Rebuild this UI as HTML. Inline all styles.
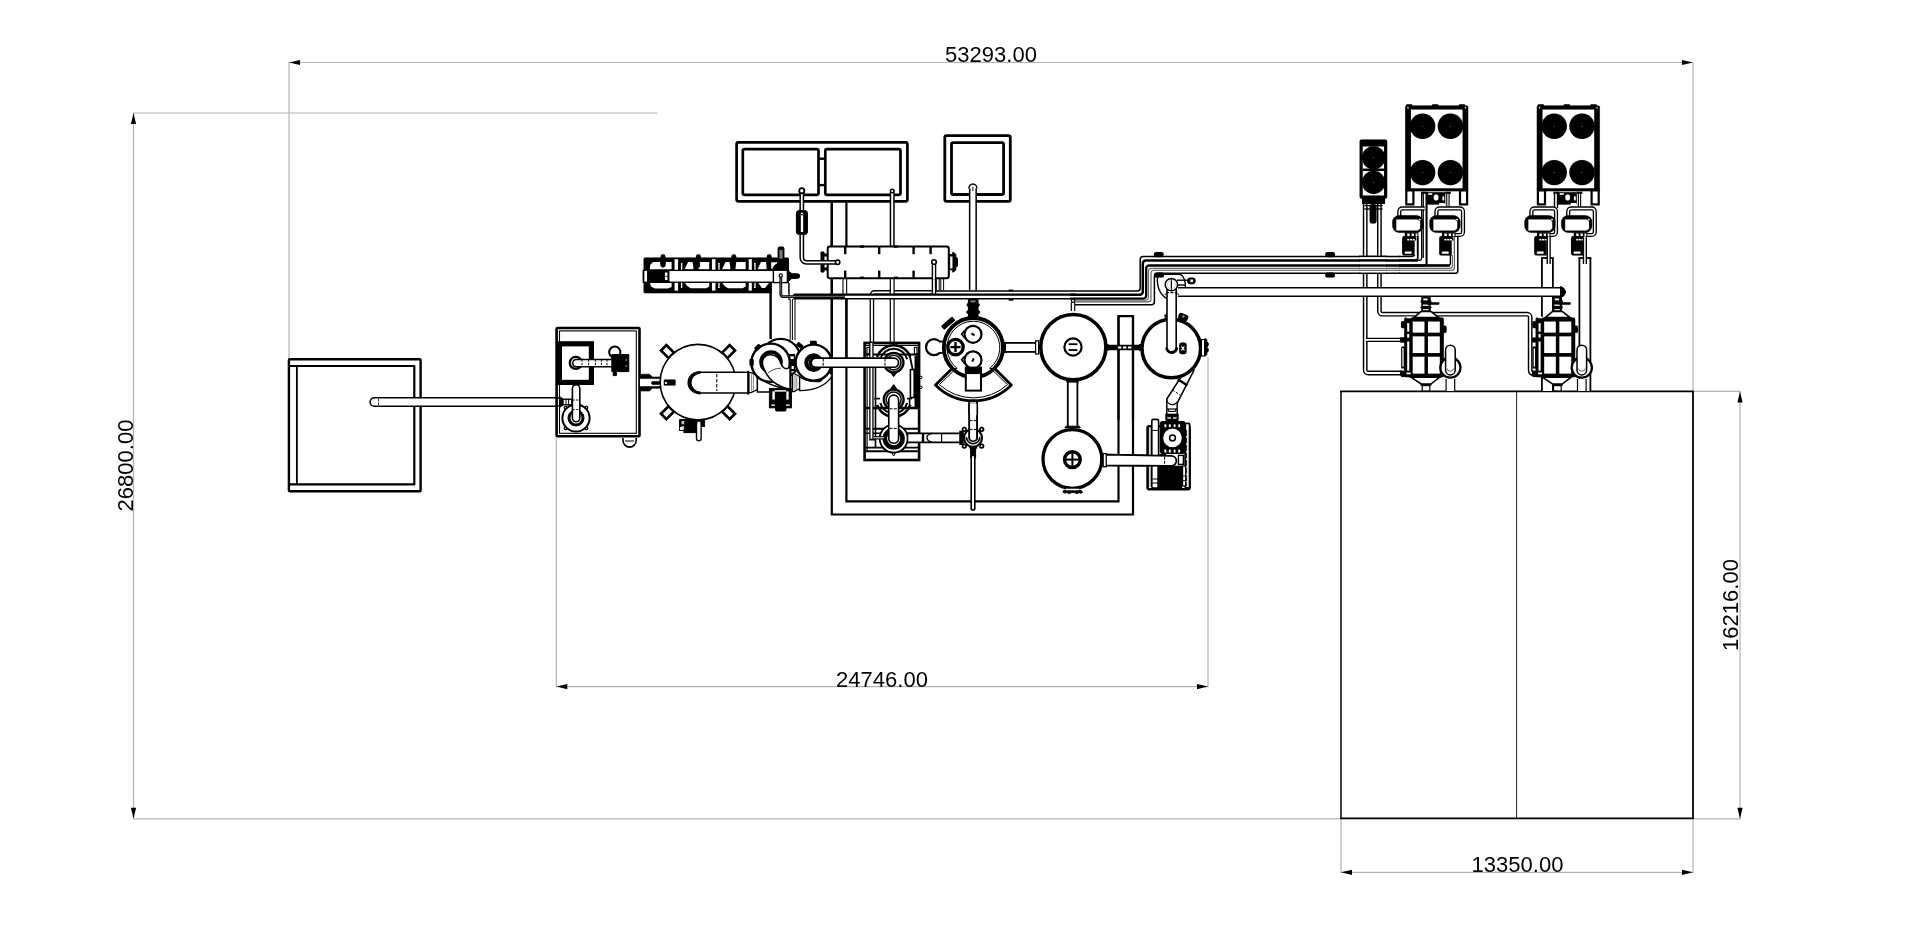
<!DOCTYPE html>
<html lang="en"><head><meta charset="utf-8"><title>Plant layout</title>
<style>
html,body{margin:0;padding:0;background:#fff;}
body{width:1920px;height:929px;overflow:hidden;}
svg{display:block;font-family:"Liberation Sans",sans-serif;will-change:transform;}
</style></head><body>
<svg width="1920" height="929" viewBox="0 0 1920 929">
<rect width="1920" height="929" fill="#fff"/>
<line x1="289" y1="62.5" x2="1693" y2="62.5" stroke="#b4b4b4" stroke-width="1.2" />
<line x1="289" y1="61.9" x2="289" y2="359" stroke="#b4b4b4" stroke-width="1.2" />
<line x1="1693" y1="61.9" x2="1693" y2="391" stroke="#b4b4b4" stroke-width="1.2" />
<polygon points="289,62.5 300,59.9 300,65.1" fill="#000"/>
<polygon points="1693,62.5 1682,59.9 1682,65.1" fill="#000"/>
<text x="991" y="61.5" font-size="22" text-anchor="middle" opacity="0.99">53293.00</text>
<line x1="133.5" y1="113" x2="133.5" y2="818.8" stroke="#b4b4b4" stroke-width="1.2" />
<line x1="132.9" y1="113" x2="657.5" y2="113" stroke="#b4b4b4" stroke-width="1.2" />
<line x1="132.9" y1="818.8" x2="1341" y2="818.8" stroke="#b4b4b4" stroke-width="1.2" />
<polygon points="133.5,113 130.9,124 136.1,124" fill="#000"/>
<polygon points="133.5,818.8 130.9,807.8 136.1,807.8" fill="#000"/>
<text x="133" y="465.5" font-size="22" text-anchor="middle" opacity="0.99" transform="rotate(-90 133 465.5)">26800.00</text>
<line x1="556.3" y1="438" x2="556.3" y2="687.2" stroke="#b4b4b4" stroke-width="1.2" />
<line x1="1208" y1="357" x2="1208" y2="687.2" stroke="#b4b4b4" stroke-width="1.2" />
<line x1="556.3" y1="686.6" x2="1208" y2="686.6" stroke="#b4b4b4" stroke-width="1.2" />
<polygon points="556.3,686.6 567.3,684.0 567.3,689.2" fill="#000"/>
<polygon points="1208,686.6 1197,684.0 1197,689.2" fill="#000"/>
<text x="882" y="686.6" font-size="22" text-anchor="middle" opacity="0.99">24746.00</text>
<line x1="1693" y1="391.4" x2="1740.6" y2="391.4" stroke="#b4b4b4" stroke-width="1.2" />
<line x1="1693" y1="818.8" x2="1740.6" y2="818.8" stroke="#b4b4b4" stroke-width="1.2" />
<line x1="1740" y1="391.4" x2="1740" y2="818.8" stroke="#b4b4b4" stroke-width="1.2" />
<polygon points="1740,391.4 1737.4,402.4 1742.6,402.4" fill="#000"/>
<polygon points="1740,818.8 1737.4,807.8 1742.6,807.8" fill="#000"/>
<text x="1738.2" y="605" font-size="22" text-anchor="middle" opacity="0.99" transform="rotate(-90 1738.2 605)">16216.00</text>
<line x1="1341" y1="818" x2="1341" y2="872.9" stroke="#b4b4b4" stroke-width="1.2" />
<line x1="1693" y1="818" x2="1693" y2="872.9" stroke="#b4b4b4" stroke-width="1.2" />
<line x1="1341" y1="872.3" x2="1693" y2="872.3" stroke="#b4b4b4" stroke-width="1.2" />
<polygon points="1341,872.3 1352,869.6999999999999 1352,874.9" fill="#000"/>
<polygon points="1693,872.3 1682,869.6999999999999 1682,874.9" fill="#000"/>
<text x="1517.5" y="871.5" font-size="22" text-anchor="middle" opacity="0.99">13350.00</text>
<line x1="1340.2" y1="391.4" x2="1693.8" y2="391.4" stroke="#000" stroke-width="1.8" />
<line x1="1340.2" y1="818.4" x2="1693.8" y2="818.4" stroke="#000" stroke-width="1.8" />
<line x1="1341" y1="391" x2="1341" y2="818.5" stroke="#000" stroke-width="1.5" />
<line x1="1693" y1="391" x2="1693" y2="818.5" stroke="#000" stroke-width="1.8" />
<line x1="1516.6" y1="391" x2="1516.6" y2="818.5" stroke="#222" stroke-width="1.0" />
<rect x="288.9" y="359.3" width="131.7" height="131.9" fill="none" stroke="#000" stroke-width="2.4" rx="0.8" />
<path d="M289,366 H414.3 V484.4 H289" fill="none" stroke="#000" stroke-width="2.2" stroke-linejoin="round"/>
<line x1="296.9" y1="366" x2="296.9" y2="484.4" stroke="#000" stroke-width="1.8" />
<path d="M374.4,402 H557" fill="none" stroke="#000" stroke-width="10.2" stroke-linecap="round" stroke-linejoin="round"/>
<path d="M374.4,402 H557" fill="none" stroke="#fff" stroke-width="7.0" stroke-linecap="round" stroke-linejoin="round"/>
<line x1="378.6" y1="399" x2="378.6" y2="405" stroke="#000" stroke-width="0.9" stroke-dasharray="2.4 1.2"/>
<rect x="556.6" y="328" width="82.9" height="108.2" fill="none" stroke="#000" stroke-width="2.6" rx="1" />
<rect x="559.5" y="330.9" width="76.8" height="102.4" fill="none" stroke="#000" stroke-width="1.1" rx="0" />
<rect x="559.4" y="343.8" width="32.0" height="38.6" fill="none" stroke="#000" stroke-width="5.2" rx="0" />
<circle cx="575.8" cy="362.9" r="6.0" fill="none" stroke="#000" stroke-width="2.4" />
<path d="M576.4,363.1 H611" fill="none" stroke="#000" stroke-width="8.8" stroke-linecap="round" stroke-linejoin="round"/>
<path d="M576.4,363.1 H611" fill="none" stroke="#fff" stroke-width="5.8" stroke-linecap="round" stroke-linejoin="round"/>
<line x1="582" y1="359.6" x2="582" y2="366.6" stroke="#000" stroke-width="0.9" stroke-dasharray="2.2 1.2"/>
<line x1="588.6" y1="359.6" x2="588.6" y2="366.6" stroke="#000" stroke-width="0.9" stroke-dasharray="2.2 1.2"/>
<line x1="595.4" y1="359.6" x2="595.4" y2="366.6" stroke="#000" stroke-width="0.9" stroke-dasharray="2.2 1.2"/>
<line x1="601.4" y1="359.6" x2="601.4" y2="366.6" stroke="#000" stroke-width="0.9" stroke-dasharray="2.2 1.2"/>
<line x1="607" y1="359.6" x2="607" y2="366.6" stroke="#000" stroke-width="0.9" stroke-dasharray="2.2 1.2"/>
<circle cx="614.8" cy="352.2" r="5.6" fill="#fff" stroke="#000" stroke-width="2.0" />
<path d="M611.8,354.6 h17 v17 h-12.4 v4 h-3.2 v-4 h-1.4z" fill="#000" stroke="#000" stroke-width="1" />
<rect x="625.6" y="359" width="1.4" height="2" fill="#666" stroke="#666" stroke-width="0.1" rx="0" />
<rect x="625.6" y="365" width="1.4" height="2" fill="#666" stroke="#666" stroke-width="0.1" rx="0" />
<circle cx="565.7" cy="407.7" r="2.0" fill="#000" stroke="#000" stroke-width="0.1" />
<circle cx="565.7" cy="407.7" r="0.8" fill="#fff" stroke="#fff" stroke-width="0.1" />
<circle cx="586.3" cy="407.7" r="2.0" fill="#000" stroke="#000" stroke-width="0.1" />
<circle cx="586.3" cy="407.7" r="0.8" fill="#fff" stroke="#fff" stroke-width="0.1" />
<circle cx="565.7" cy="428.3" r="2.0" fill="#000" stroke="#000" stroke-width="0.1" />
<circle cx="565.7" cy="428.3" r="0.8" fill="#fff" stroke="#fff" stroke-width="0.1" />
<circle cx="586.3" cy="428.3" r="2.0" fill="#000" stroke="#000" stroke-width="0.1" />
<circle cx="586.3" cy="428.3" r="0.8" fill="#fff" stroke="#fff" stroke-width="0.1" />
<circle cx="576" cy="418" r="13.6" fill="#fff" stroke="#000" stroke-width="2.0" />
<circle cx="576" cy="418" r="7.0" fill="none" stroke="#000" stroke-width="3.0" />
<path d="M576.1,388.4 V418" fill="none" stroke="#000" stroke-width="9.0" stroke-linecap="round" stroke-linejoin="round"/>
<path d="M576.1,388.4 V418" fill="none" stroke="#fff" stroke-width="5.8" stroke-linecap="round" stroke-linejoin="round"/>
<line x1="572.4" y1="400" x2="579.8" y2="400" stroke="#000" stroke-width="0.9" stroke-dasharray="2.4 1.2"/>
<line x1="572.4" y1="409.6" x2="579.8" y2="409.6" stroke="#000" stroke-width="0.9" stroke-dasharray="2.4 1.2"/>
<path d="M559.6,396.6 l3.6,2.4 v6 l-3.6,2.4z" fill="#000" stroke="#000" stroke-width="1" />
<rect x="563" y="399.2" width="8.8" height="5.6" fill="#fff" stroke="#000" stroke-width="1.4" rx="0" />
<line x1="566" y1="399.2" x2="566" y2="404.8" stroke="#000" stroke-width="1.0" />
<line x1="568.6" y1="399.2" x2="568.6" y2="404.8" stroke="#000" stroke-width="1.0" />
<path d="M623,438 v2.5 a6.6,6.6 0 0 0 13.2,0 v-2.5" fill="none" stroke="#000" stroke-width="1.6" />
<line x1="625" y1="441" x2="634" y2="441" stroke="#000" stroke-width="1.0" />
<rect x="640" y="378" width="21" height="9.2" fill="#fff" stroke="#fff" stroke-width="0.1" rx="0" />
<path d="M640.2,374.2 H649.6 L652.4,377 H661 V378.6 H640.2z" fill="#000" stroke="#000" stroke-width="0.6" />
<path d="M640.2,391 H649.6 L652.4,388.2 H661 V386.6 H640.2z" fill="#000" stroke="#000" stroke-width="0.6" />
<path d="M661,381.4 H652.4 L651.2,383 L652.4,384.6 H661z" fill="#000" stroke="#000" stroke-width="0.6" />
<rect x="-5.4" y="-3.8" width="10.8" height="7.6" fill="#fff" stroke="#000" stroke-width="2.7" transform="translate(728.5 351.7) rotate(-45)"/>
<rect x="-5.4" y="-3.8" width="10.8" height="7.6" fill="#fff" stroke="#000" stroke-width="2.7" transform="translate(667.5 351.7) rotate(-135)"/>
<rect x="-5.4" y="-3.8" width="10.8" height="7.6" fill="#fff" stroke="#000" stroke-width="2.7" transform="translate(667.5 412.7) rotate(-225)"/>
<rect x="-5.4" y="-3.8" width="10.8" height="7.6" fill="#fff" stroke="#000" stroke-width="2.7" transform="translate(728.5 412.7) rotate(-315)"/>
<circle cx="698" cy="382.2" r="37.8" fill="#fff" stroke="#000" stroke-width="1.6" />
<rect x="663.8" y="379.6" width="11.8" height="6.0" fill="#000" stroke="#000" stroke-width="0.1" rx="1.2" />
<rect x="665" y="382" width="2" height="1.8" fill="#fff" stroke="#fff" stroke-width="0.1" rx="0" />
<rect x="680" y="419.6" width="24.6" height="6.8" fill="#000" stroke="#000" stroke-width="1" rx="0" />
<rect x="684" y="426" width="14" height="6.6" fill="#000" stroke="#000" stroke-width="1" rx="0" />
<rect x="681.6" y="421" width="2.6" height="3.2" fill="#ccc" stroke="#ccc" stroke-width="0.1" rx="0" />
<rect x="681.6" y="426.2" width="2.6" height="2.8" fill="#ccc" stroke="#ccc" stroke-width="0.1" rx="0" />
<rect x="679.6" y="420" width="5.4" height="10.5" fill="none" stroke="#000" stroke-width="1.0" rx="0" />
<path d="M698.8,423 V438.6" fill="none" stroke="#000" stroke-width="6" stroke-linecap="round" stroke-linejoin="round"/>
<path d="M698.8,423 V438.6" fill="none" stroke="#fff" stroke-width="3.2" stroke-linecap="round" stroke-linejoin="round"/>
<path d="M698.6,372.3 H748.3 V393 H698.6 A10.35,10.35 0 0 1 698.6,372.3Z" fill="#fff" stroke="#000" stroke-width="1.6" />
<path d="M700.5,372.3 A10.35,10.35 0 0 0 700.5,393" fill="none" stroke="#000" stroke-width="2.8" />
<line x1="716.8" y1="374" x2="716.8" y2="391" stroke="#000" stroke-width="1.0" stroke-dasharray="3.5 1.5"/>
<line x1="748.3" y1="370.8" x2="748.3" y2="394.6" stroke="#000" stroke-width="2.0" />
<!--PART2-->
<path d="M831.8,202 V514.5 H1133 V316.2 H1118.5 V501.3 H846.4 V298" fill="none" stroke="#000" stroke-width="2.2" stroke-linejoin="miter"/>
<rect x="736.6" y="142.3" width="170.8" height="59.0" fill="#fff" stroke="#000" stroke-width="2.7" rx="1.8" />
<rect x="742.8" y="149.1" width="75.7" height="45.8" fill="#fff" stroke="#000" stroke-width="2.7" rx="1.8" />
<rect x="825.3" y="149.1" width="75.2" height="45.8" fill="#fff" stroke="#000" stroke-width="2.7" rx="1.8" />
<line x1="819" y1="158.7" x2="825" y2="158.7" stroke="#000" stroke-width="2.4" />
<line x1="819" y1="185.1" x2="825" y2="185.1" stroke="#000" stroke-width="2.4" />
<rect x="944.8" y="135.6" width="65.5" height="65.7" fill="#fff" stroke="#000" stroke-width="2.8" rx="1.8" />
<rect x="951.5" y="142.7" width="52.1" height="51.8" fill="#fff" stroke="#000" stroke-width="2.8" rx="1.8" />
<line x1="831.8" y1="202" x2="831.8" y2="246" stroke="#000" stroke-width="2.2" />
<line x1="846.4" y1="202" x2="846.4" y2="246" stroke="#000" stroke-width="2.2" />
<rect x="643.6" y="257.6" width="145.4" height="35.6" fill="#000" stroke="#000" stroke-width="0.1" rx="1.5" />
<rect x="771.8" y="283" width="16.6" height="11" fill="#fff" stroke="#fff" stroke-width="0.1" rx="0" />
<polygon points="650.0,269.2 650.0,265.0 653.0,261.9 660.0,261.9 660.6,266.5 665.4,266.5 666.0,261.9 671.6,261.9 671.6,269.2" fill="#fff"/>
<polygon points="650.0,283.0 671.6,283.0 671.6,287.0 668.0,288.4 655.0,288.4 651.0,286.6" fill="#fff"/>
<polygon points="757.6,269.2 761.0,261.9 766.0,261.9 766.6,267.0 766.6,269.2" fill="#fff"/>
<polygon points="758.4,283.0 769.0,283.0 765.0,288.0 762.0,288.0" fill="#fff"/>
<rect x="754.4" y="263" width="1.2" height="25" fill="#fff" stroke="#fff" stroke-width="0.1" rx="0" />
<polygon points="684.6,269.2 688.2,261.9 692.6,261.9 693.4,267.0 693.4,269.2" fill="#fff"/>
<polygon points="698.6,269.2 698.6,267.0 699.4,261.9 709.2,261.9 709.2,269.2" fill="#fff"/>
<polygon points="685.0,283.0 709.2,283.0 709.2,286.4 706.2,288.2 690.6,288.2 687.2,286.0" fill="#fff"/>
<rect x="681.0" y="263" width="1.2" height="25" fill="#fff" stroke="#fff" stroke-width="0.1" rx="0" />
<polygon points="722.0,269.2 725.6,261.9 729.5,261.9 730.3,267.0 730.3,269.2" fill="#fff"/>
<polygon points="735.5,269.2 735.5,267.0 736.3,261.9 745.6,261.9 745.6,269.2" fill="#fff"/>
<polygon points="722.4,283.0 745.6,283.0 745.6,286.4 742.6,288.2 728.0,288.2 724.6,286.0" fill="#fff"/>
<rect x="718.4" y="263" width="1.2" height="25" fill="#fff" stroke="#fff" stroke-width="0.1" rx="0" />
<polygon points="771.2,262.2 777.2,262.2 777.2,263.4 773.0,268.8 771.2,268.8" fill="#fff"/>
<rect x="674.6" y="259.2" width="3.4" height="31.4" fill="#fff" stroke="#fff" stroke-width="0.1" rx="0" />
<rect x="712" y="259.2" width="3.4" height="31.4" fill="#fff" stroke="#fff" stroke-width="0.1" rx="0" />
<rect x="748.8" y="259.2" width="3.0" height="31.4" fill="#fff" stroke="#fff" stroke-width="0.1" rx="0" />
<rect x="660.6" y="254.2" width="4.8" height="7.8" fill="#000" stroke="#000" stroke-width="0.1" rx="2.2" />
<rect x="661.5" y="258" width="3.0" height="9.6" fill="#000" stroke="#000" stroke-width="0.1" rx="1" />
<rect x="696.0" y="254.2" width="4.8" height="7.8" fill="#000" stroke="#000" stroke-width="0.1" rx="2.2" />
<rect x="696.9" y="258" width="3.0" height="9.6" fill="#000" stroke="#000" stroke-width="0.1" rx="1" />
<rect x="731.4" y="254.2" width="4.8" height="7.8" fill="#000" stroke="#000" stroke-width="0.1" rx="2.2" />
<rect x="732.3" y="258" width="3.0" height="9.6" fill="#000" stroke="#000" stroke-width="0.1" rx="1" />
<rect x="766.8000000000001" y="254.2" width="4.8" height="7.8" fill="#000" stroke="#000" stroke-width="0.1" rx="2.2" />
<rect x="767.7" y="258" width="3.0" height="9.6" fill="#000" stroke="#000" stroke-width="0.1" rx="1" />
<rect x="668.8" y="270.4" width="104.8" height="11.8" fill="#fff" stroke="#000" stroke-width="1.3" rx="0" />
<rect x="642.6" y="269.6" width="5.6" height="13.4" fill="#000" stroke="#000" stroke-width="0.1" rx="1.2" />
<rect x="644.4" y="271" width="2.6" height="10.6" fill="#fff" stroke="#fff" stroke-width="0.1" rx="0" />
<rect x="665" y="272.6" width="2.4" height="7.4" fill="#fff" stroke="#fff" stroke-width="0.1" rx="0" />
<line x1="664.4" y1="276.3" x2="668" y2="276.3" stroke="#000" stroke-width="0.8" />
<path d="M772.4,270.6 q1,-6 6,-7 h5.4 q4,1 5,7z" fill="#000" stroke="#000" stroke-width="1" />
<rect x="773.4" y="270.2" width="14.0" height="12.4" fill="#fff" stroke="#000" stroke-width="1.4" rx="0" />
<rect x="777.6" y="246.4" width="6.8" height="13.0" fill="#000" stroke="#000" stroke-width="0.1" rx="2.4" />
<rect x="779.4" y="250" width="3.2" height="8.6" fill="#777" stroke="#777" stroke-width="0.1" rx="0" />
<path d="M787.8,270.8 l3.6,2.4 v0.6 h6 a2.3,2.3 0 0 1 0,4.6 h-6 v0.6 l-3.6,2.6z" fill="#000" stroke="#000" stroke-width="1" />
<line x1="770.6" y1="283" x2="770.6" y2="339" stroke="#000" stroke-width="2.4" />
<line x1="789" y1="283" x2="789" y2="300" stroke="#000" stroke-width="1.3" />
<line x1="792.4" y1="299" x2="792.4" y2="340" stroke="#000" stroke-width="1.0" />
<line x1="795" y1="299" x2="795" y2="340" stroke="#000" stroke-width="1.0" />
<line x1="790.2" y1="299" x2="790.2" y2="340" stroke="#000" stroke-width="1.0" />
<path d="M892.2,191.5 V246" fill="none" stroke="#000" stroke-width="5.0" stroke-linecap="round" stroke-linejoin="round"/>
<path d="M892.2,191.5 V246" fill="none" stroke="#fff" stroke-width="2.0" stroke-linecap="round" stroke-linejoin="round"/>
<circle cx="892.2" cy="191" r="1.7" fill="#fff" stroke="#000" stroke-width="1.4" />
<path d="M972.9,188 V290.6" fill="none" stroke="#000" stroke-width="8.0" stroke-linecap="butt"/>
<path d="M972.9,188 V290.6" fill="none" stroke="#fff" stroke-width="5.0" stroke-linecap="butt"/>
<path d="M968.9,188.4 a4,4.4 0 0 1 8,0" fill="#fff" stroke="#000" stroke-width="1.5" />
<line x1="972.9" y1="186.5" x2="972.9" y2="191" stroke="#000" stroke-width="0.9" />
<rect x="969.4" y="299.6" width="8.0" height="3.8" fill="#000" stroke="#000" stroke-width="0.1" rx="0" />
<!--PART3-->
<line x1="831.8" y1="240" x2="831.8" y2="360" stroke="#000" stroke-width="2.2" />
<line x1="846.4" y1="298" x2="846.4" y2="360" stroke="#000" stroke-width="2.2" />
<path d="M932,292.4 H874.6 a2.7,2.7 0 0 0 -2.7,2.7 V343" fill="none" stroke="#000" stroke-width="4.6" stroke-linecap="butt" stroke-linejoin="round"/>
<path d="M932,292.4 H874.6 a2.7,2.7 0 0 0 -2.7,2.7 V343" fill="none" stroke="#fff" stroke-width="2.0" stroke-linecap="butt" stroke-linejoin="round"/>
<path d="M934,262 V294.6" fill="none" stroke="#000" stroke-width="4.6" stroke-linecap="butt" stroke-linejoin="round"/>
<path d="M934,262 V294.6" fill="none" stroke="#fff" stroke-width="1.8" stroke-linecap="butt" stroke-linejoin="round"/>
<path d="M844.8,278 V294" fill="none" stroke="#000" stroke-width="4.8" stroke-linecap="butt" stroke-linejoin="round"/>
<path d="M844.8,278 V294" fill="none" stroke="#fff" stroke-width="2.6" stroke-linecap="butt" stroke-linejoin="round"/>
<path d="M937.8,278 V290.4" fill="none" stroke="#000" stroke-width="3.8" stroke-linecap="butt" stroke-linejoin="round"/>
<path d="M937.8,278 V290.4" fill="none" stroke="#fff" stroke-width="1.8" stroke-linecap="butt" stroke-linejoin="round"/>
<path d="M942.2,278 V290.4" fill="none" stroke="#000" stroke-width="3.8" stroke-linecap="butt" stroke-linejoin="round"/>
<path d="M942.2,278 V290.4" fill="none" stroke="#fff" stroke-width="1.8" stroke-linecap="butt" stroke-linejoin="round"/>
<path d="M892.2,278 V343" fill="none" stroke="#000" stroke-width="5.0" stroke-linecap="butt" stroke-linejoin="round"/>
<path d="M892.2,278 V343" fill="none" stroke="#fff" stroke-width="2.6" stroke-linecap="butt" stroke-linejoin="round"/>
<rect x="794" y="294.6" width="282" height="4.1" fill="#fff" stroke="#fff" stroke-width="0.1" rx="0" />
<line x1="794" y1="298.7" x2="1076" y2="298.7" stroke="#000" stroke-width="1.6" />
<line x1="794" y1="294.6" x2="1076" y2="294.6" stroke="#000" stroke-width="2.4" />
<line x1="794" y1="294" x2="794" y2="299.4" stroke="#000" stroke-width="1.4" />
<path d="M780.8,275.8 V294.4 a2.2,2.2 0 0 0 2.2,2.2 H845" fill="none" stroke="#000" stroke-width="2.8" />
<path d="M780.8,275.8 V294.4 a2.2,2.2 0 0 0 2.2,2.2 H845" fill="none" stroke="#777" stroke-width="0.9" />
<circle cx="780.8" cy="275.4" r="1.6" fill="#fff" stroke="#000" stroke-width="1.2" />
<rect x="827.7" y="246.5" width="121.1" height="31.7" fill="#fff" stroke="#000" stroke-width="2.0" rx="2.2" />
<line x1="845.2" y1="247" x2="845.2" y2="254.2" stroke="#000" stroke-width="2.4" />
<line x1="879.2" y1="247" x2="879.2" y2="254.2" stroke="#000" stroke-width="2.4" />
<line x1="913.6" y1="247" x2="913.6" y2="254.2" stroke="#000" stroke-width="2.4" />
<line x1="930.6" y1="247" x2="930.6" y2="254.2" stroke="#000" stroke-width="2.4" />
<line x1="845.2" y1="270.6" x2="845.2" y2="277.8" stroke="#000" stroke-width="2.4" />
<line x1="879.2" y1="270.6" x2="879.2" y2="277.8" stroke="#000" stroke-width="2.4" />
<line x1="913.6" y1="270.6" x2="913.6" y2="277.8" stroke="#000" stroke-width="2.4" />
<line x1="860" y1="246.6" x2="864" y2="246.6" stroke="#000" stroke-width="2.4" />
<line x1="860" y1="277.8" x2="864" y2="277.8" stroke="#000" stroke-width="2.4" />
<line x1="894" y1="246.6" x2="898" y2="246.6" stroke="#000" stroke-width="2.4" />
<line x1="894" y1="277.8" x2="898" y2="277.8" stroke="#000" stroke-width="2.4" />
<path d="M827,254 h-3 v-2 h-3 v20 h3 v-2 h3z" fill="#000" stroke="#000" stroke-width="1" />
<rect x="824.6" y="256.6" width="2.0" height="10.8" fill="#fff" stroke="#fff" stroke-width="0.1" rx="0" />
<path d="M949.4,254.6 h3.4 v-2.4 l3,2 v3 l1.6,1 v8 l-1.6,1 v3 l-3,2 v-2.4 h-3.4z" fill="#000" stroke="#000" stroke-width="1" />
<rect x="950.2" y="256.6" width="2.2" height="11.8" fill="#fff" stroke="#fff" stroke-width="0.1" rx="0" />
<path d="M801.8,191 V257.8 a4.5,4.5 0 0 0 4.5,4.5 H837.6" fill="none" stroke="#000" stroke-width="4.8" stroke-linecap="round" stroke-linejoin="round"/>
<path d="M801.8,191 V257.8 a4.5,4.5 0 0 0 4.5,4.5 H837.6" fill="none" stroke="#fff" stroke-width="1.8" stroke-linecap="round" stroke-linejoin="round"/>
<circle cx="801.8" cy="190.7" r="2.6" fill="#fff" stroke="#000" stroke-width="1.8" />
<circle cx="837.6" cy="262.3" r="2.2" fill="#fff" stroke="#000" stroke-width="1.6" />
<rect x="796.4" y="210.6" width="11.0" height="23.8" fill="#000" stroke="#000" stroke-width="1" rx="2.5" />
<rect x="800.9" y="214" width="2.2" height="18" fill="#fff" stroke="#fff" stroke-width="0.1" rx="0" />
<circle cx="802" cy="213.4" r="1.5" fill="#fff" stroke="#000" stroke-width="1" />
<path d="M934,264 V279" fill="none" stroke="#000" stroke-width="4.6" stroke-linecap="butt"/>
<path d="M934,264 V279" fill="none" stroke="#fff" stroke-width="1.8" stroke-linecap="butt"/>
<circle cx="934" cy="262" r="2.3" fill="#fff" stroke="#000" stroke-width="1.6" />
<path d="M1400,256.4 H1143.2 a3,3 0 0 0 -3,3 V287.9 a3,3 0 0 1 -3,3 H935" fill="none" stroke="#000" stroke-width="1.5" stroke-linejoin="round"/>
<path d="M1400,260.4 H1145.8 a3,3 0 0 0 -3,3 V291.8 a3,3 0 0 1 -3,3 H1070" fill="none" stroke="#000" stroke-width="2.5" stroke-linejoin="round"/>
<path d="M1400,265.5 H1149.2 a3,3 0 0 0 -3,3 V295.6 a3,3 0 0 1 -3,3 H1070" fill="none" stroke="#000" stroke-width="2.3" stroke-linejoin="round"/>
<path d="M1400,268.4 H1151.4 a3,3 0 0 0 -3,3 V297.3 a3,3 0 0 1 -3,3 H1074.6" fill="none" stroke="#666" stroke-width="1.1" stroke-linejoin="round"/>
<path d="M1400,270.3 H1154.0 a3,3 0 0 0 -3,3 V298.9 a3,3 0 0 1 -3,3 H1074.6" fill="none" stroke="#555" stroke-width="1.1" stroke-linejoin="round"/>
<path d="M1400,273.3 H1157.4 a3,3 0 0 0 -3,3 V301.7 a3,3 0 0 1 -3,3 H1074.6" fill="none" stroke="#000" stroke-width="1.5" stroke-linejoin="round"/>
<rect x="1153.8999999999999" y="252.0" width="9.8" height="5.2" fill="#000" stroke="#000" stroke-width="0.1" rx="2.2" />
<rect x="1154.3" y="272.4" width="9.8" height="5.2" fill="#000" stroke="#000" stroke-width="0.1" rx="2.2" />
<rect x="1325.1999999999998" y="252.0" width="9.8" height="5.2" fill="#000" stroke="#000" stroke-width="0.1" rx="2.2" />
<rect x="1325.1999999999998" y="272.4" width="9.8" height="5.2" fill="#000" stroke="#000" stroke-width="0.1" rx="2.2" />
<rect x="1008.6" y="289.6" width="4.8" height="2.0" fill="#000" stroke="#000" stroke-width="0.1" rx="1" />
<rect x="1008.6" y="298.8" width="4.8" height="2.0" fill="#000" stroke="#000" stroke-width="0.1" rx="1" />
<path d="M1178,292.1 H1561" fill="none" stroke="#000" stroke-width="10.0" stroke-linecap="butt" stroke-linejoin="round"/>
<path d="M1178,292.1 H1561" fill="none" stroke="#fff" stroke-width="7.0" stroke-linecap="butt" stroke-linejoin="round"/>
<line x1="1561" y1="286.6" x2="1561" y2="297.6" stroke="#000" stroke-width="2.0" />
<path d="M1562,288 l2,1 v1.5 l1.4,0.8 v2 l-1.4,0.8 v1.5 l-2,1z" fill="#000" stroke="#000" stroke-width="1" />
<path d="M1073,311 V302.4" fill="none" stroke="#000" stroke-width="4.6" stroke-linecap="butt"/>
<path d="M1073,311 V302.4" fill="none" stroke="#fff" stroke-width="2.2" stroke-linecap="butt"/>
<circle cx="1073" cy="300.8" r="1.6" fill="#fff" stroke="#000" stroke-width="1.2" />
<path d="M1157.6,276.2 C1156,290 1163,298 1169.5,299.4" fill="none" stroke="#000" stroke-width="1.4" />
<path d="M1162,274.2 H1180 C1184,276 1185.6,280 1185.4,287.8" fill="none" stroke="#000" stroke-width="1.4" />
<line x1="1177" y1="280.2" x2="1188" y2="280.2" stroke="#000" stroke-width="1.4" />
<line x1="1177" y1="285" x2="1185" y2="285" stroke="#000" stroke-width="1.4" />
<rect x="1187.6" y="278" width="7.6" height="5.8" fill="#000" stroke="#000" stroke-width="1" rx="2.2" />
<rect x="1190.4" y="279.6" width="2.6" height="2.4" fill="#fff" stroke="#fff" stroke-width="0.1" rx="0" />
<!--PART4-->
<path d="M749,372.6 h2 l6.4,3 v14 l-6.4,3 h-2z" fill="#fff" stroke="#000" stroke-width="1.2" />
<line x1="751.4" y1="374.5" x2="751.4" y2="391" stroke="#888" stroke-width="1.0" />
<line x1="753.4" y1="375" x2="753.4" y2="390.4" stroke="#888" stroke-width="1.0" />
<path d="M757.4,376 C764,382 772,386 782,388 V392 H757.4z" fill="#fff" stroke="#000" stroke-width="1.4" />
<circle cx="780.6" cy="358.4" r="19.6" fill="#fff" stroke="#000" stroke-width="2.2" />
<path d="M792.6,373.6 h1.6 l5.4,3 v12 l-5.4,3 h-1.6z" fill="#fff" stroke="#000" stroke-width="1.2" />
<line x1="795" y1="375" x2="795" y2="390" stroke="#888" stroke-width="1.0" />
<line x1="796.8" y1="376" x2="796.8" y2="389.6" stroke="#888" stroke-width="1.0" />
<path d="M799.6,377 C806,381 812,382 820,381.6 L830,372 L832,376 C826,386 814,390.4 799.6,390.6z" fill="#fff" stroke="#000" stroke-width="1.4" />
<rect x="789" y="354" width="6" height="17" fill="#000" stroke="#000" stroke-width="0.1" rx="0" />
<rect x="790.4" y="356.4" width="3.4" height="2.6" fill="#fff" stroke="#fff" stroke-width="0.1" rx="0" />
<rect x="790.4" y="366" width="3.4" height="3" fill="#fff" stroke="#fff" stroke-width="0.1" rx="0" />
<circle cx="770.6" cy="362.8" r="19.2" fill="#fff" stroke="#000" stroke-width="2.4" />
<rect x="-3.4" y="-2.2" width="6.8" height="4.4" rx="1" fill="#000" transform="translate(757.8 347.4) rotate(-45)"/>
<rect x="-3.4" y="-2.2" width="6.8" height="4.4" rx="1" fill="#000" transform="translate(751.6 362.4) rotate(90)"/>
<rect x="-3.4" y="-2.2" width="6.8" height="4.4" rx="1" fill="#000" transform="translate(799.8 345.4) rotate(38)"/>
<rect x="-3.4" y="-2.2" width="6.8" height="4.4" rx="1" fill="#000" transform="translate(813.4 343) rotate(0)"/>
<circle cx="771" cy="362" r="10" fill="#fff" stroke="#000" stroke-width="3.6" />
<path d="M763,366 C766,376 774,386 790.5,389.4 V366.5 C785,372 781.5,366 780,361.6 C777.6,354.6 768,352.6 764,357.6 C762,360.4 762,363 763,366Z" fill="#fff" stroke="#000" stroke-width="1.5" />
<path d="M768,373 C772,369.6 776.6,368.2 781,368.2" fill="none" stroke="#333" stroke-width="0.9" />
<line x1="790.4" y1="366" x2="790.4" y2="390" stroke="#000" stroke-width="2.0" />
<rect x="769.4" y="388.6" width="22.0" height="19.2" fill="#000" stroke="#000" stroke-width="1" rx="0" />
<rect x="775.6" y="407" width="10.4" height="4" fill="#000" stroke="#000" stroke-width="1" rx="1" />
<rect x="772.4" y="391.4" width="2.4" height="8.2" fill="#fff" stroke="#fff" stroke-width="0.1" rx="0" />
<rect x="786.4" y="391.4" width="2.2" height="8.2" fill="#fff" stroke="#fff" stroke-width="0.1" rx="0" />
<rect x="774.6" y="390.2" width="11.4" height="1.4" fill="#fff" stroke="#fff" stroke-width="0.1" rx="0" />
<rect x="771.4" y="404.6" width="3.6" height="1.2" fill="#fff" stroke="#fff" stroke-width="0.1" rx="0" />
<rect x="786" y="404.6" width="3.6" height="1.2" fill="#fff" stroke="#fff" stroke-width="0.1" rx="0" />
<circle cx="813.6" cy="362.6" r="18.0" fill="#fff" stroke="#000" stroke-width="2.4" />
<circle cx="813.6" cy="362.6" r="7.3" fill="#fff" stroke="#000" stroke-width="4.2" />
<rect x="864.6" y="342.9" width="54.5" height="117.1" fill="#fff" stroke="#000" stroke-width="2.6" rx="0" />
<line x1="866" y1="345.4" x2="918" y2="345.4" stroke="#000" stroke-width="1.4" />
<rect x="866.9" y="347.4" width="2.5" height="6.6" fill="none" stroke="#000" stroke-width="1.2" rx="0" />
<rect x="914.4" y="347.4" width="2.6" height="6.6" fill="none" stroke="#000" stroke-width="1.2" rx="0" />
<line x1="866" y1="354.6" x2="918" y2="354.6" stroke="#000" stroke-width="2.0" />
<line x1="866" y1="451.2" x2="918" y2="451.2" stroke="#000" stroke-width="2.0" />
<line x1="866" y1="447.6" x2="918" y2="447.6" stroke="#000" stroke-width="1.8" />
<line x1="866" y1="428.8" x2="918" y2="428.8" stroke="#000" stroke-width="2.0" />
<line x1="866" y1="433.2" x2="918" y2="433.2" stroke="#000" stroke-width="1.4" />
<line x1="866" y1="408" x2="918" y2="408" stroke="#000" stroke-width="2.4" />
<line x1="867.1" y1="355" x2="867.1" y2="452" stroke="#000" stroke-width="1.2" />
<line x1="875.5" y1="366" x2="875.5" y2="447" stroke="#000" stroke-width="1.6" />
<rect x="914.6" y="355.6" width="4.6" height="53.4" fill="#000" stroke="#000" stroke-width="0.1" rx="0" />
<rect x="910.4" y="369.6" width="3.8" height="28.0" fill="#fff" stroke="#000" stroke-width="1.6" rx="0" />
<line x1="909.6" y1="355" x2="912.6" y2="369" stroke="#000" stroke-width="1.8" />
<line x1="909.6" y1="398" x2="909.6" y2="409" stroke="#000" stroke-width="1.6" />
<circle cx="921" cy="377.4" r="1.2" fill="#fff" stroke="#000" stroke-width="1.0" />
<circle cx="921" cy="387.4" r="1.2" fill="#fff" stroke="#000" stroke-width="1.0" />
<path d="M877.1,357.20000000000005 A17.5,17.5 0 0 1 910.3000000000001,357.20000000000005" fill="none" stroke="#000" stroke-width="2.4"/>
<path d="M880.3000000000001,359.20000000000005 A13.8,13.8 0 0 1 907.1,359.20000000000005" fill="none" stroke="#000" stroke-width="2.0"/>
<path d="M877.1,404.9 A17.5,17.5 0 0 0 910.3000000000001,404.9" fill="none" stroke="#000" stroke-width="2.4"/>
<path d="M880.3000000000001,402.9 A13.8,13.8 0 0 0 907.1,402.9" fill="none" stroke="#000" stroke-width="2.0"/>
<circle cx="893.7" cy="362.6" r="8.7" fill="#fff" stroke="#000" stroke-width="4.4" />
<circle cx="893.7" cy="362.6" r="8.3" fill="none" stroke="#ddd" stroke-width="0.7" />
<path d="M890.6,372.6 l3.1,4 l3.1,-4z" fill="#000" stroke="#000" stroke-width="1" />
<circle cx="893.7" cy="399.5" r="8.9" fill="#fff" stroke="#000" stroke-width="4.4" />
<circle cx="893.7" cy="399.5" r="8.5" fill="none" stroke="#ddd" stroke-width="0.7" />
<path d="M890.6,389 l3.1,-4.4 l3.1,4.4z" fill="#000" stroke="#000" stroke-width="1" />
<line x1="874" y1="398.6" x2="880" y2="398.6" stroke="#000" stroke-width="1.6" />
<line x1="907" y1="398.6" x2="912" y2="398.6" stroke="#000" stroke-width="1.6" />
<circle cx="893.7" cy="438.6" r="14" fill="#fff" stroke="#000" stroke-width="1.8" />
<circle cx="893.7" cy="438.6" r="8.9" fill="#fff" stroke="#000" stroke-width="4.6" />
<path d="M892,453 l1.7,3 l1.7,-3z" fill="#fff" stroke="#000" stroke-width="1" />
<path d="M871.4,343 V439" fill="none" stroke="#000" stroke-width="4.4" stroke-linecap="butt" stroke-linejoin="round"/>
<path d="M871.4,343 V439" fill="none" stroke="#fff" stroke-width="1.8" stroke-linecap="butt" stroke-linejoin="round"/>
<line x1="869.2" y1="439.6" x2="876" y2="439.6" stroke="#000" stroke-width="1.8" />
<path d="M874,437.8 H884" fill="none" stroke="#000" stroke-width="3.4" stroke-linecap="butt" stroke-linejoin="round"/>
<path d="M874,437.8 H884" fill="none" stroke="#fff" stroke-width="1.0" stroke-linecap="butt" stroke-linejoin="round"/>
<path d="M893.7,400 V438.4" fill="none" stroke="#000" stroke-width="11.4" stroke-linecap="round" stroke-linejoin="round"/>
<path d="M893.7,400 V438.4" fill="none" stroke="#fff" stroke-width="8.2" stroke-linecap="round" stroke-linejoin="round"/>
<line x1="889.6" y1="408.8" x2="898.4" y2="408.8" stroke="#000" stroke-width="1.0" stroke-dasharray="3 1.2"/>
<line x1="889.6" y1="428.4" x2="898.4" y2="428.4" stroke="#000" stroke-width="1.0" stroke-dasharray="3 1.2"/>
<path d="M907.6,437.9 H960" fill="none" stroke="#000" stroke-width="10.8" stroke-linecap="butt" stroke-linejoin="round"/>
<path d="M907.6,437.9 H960" fill="none" stroke="#fff" stroke-width="7.2" stroke-linecap="butt" stroke-linejoin="round"/>
<line x1="907.6" y1="432.4" x2="907.6" y2="443.4" stroke="#000" stroke-width="1.4" />
<line x1="923" y1="433.6" x2="923" y2="442" stroke="#000" stroke-width="2.4" />
<path d="M932,433.6 a5,4.2 0 0 0 0,8.4" fill="none" stroke="#000" stroke-width="1.4" />
<line x1="941.6" y1="433.6" x2="941.6" y2="442" stroke="#000" stroke-width="1.2" />
<path d="M814,362.7 H894" fill="none" stroke="#000" stroke-width="10.8" stroke-linecap="round" stroke-linejoin="round"/>
<path d="M814,362.7 H894" fill="none" stroke="#fff" stroke-width="7.4" stroke-linecap="round" stroke-linejoin="round"/>
<line x1="823.2" y1="358.6" x2="823.2" y2="366.8" stroke="#000" stroke-width="1.0" stroke-dasharray="3 1.2"/>
<line x1="885" y1="358.6" x2="885" y2="366.8" stroke="#000" stroke-width="1.0" stroke-dasharray="3 1.2"/>
<path d="M815,357.6 A5.2,5.2 0 0 0 815,367.8" fill="none" stroke="#000" stroke-width="2.6" />
<circle cx="964.3" cy="429.3" r="2.6" fill="#000" stroke="#000" stroke-width="0.1" />
<circle cx="964.3" cy="429.3" r="0.9" fill="#fff" stroke="#fff" stroke-width="0.1" />
<circle cx="981.7" cy="429.3" r="2.6" fill="#000" stroke="#000" stroke-width="0.1" />
<circle cx="981.7" cy="429.3" r="0.9" fill="#fff" stroke="#fff" stroke-width="0.1" />
<circle cx="964.3" cy="446.09999999999997" r="2.6" fill="#000" stroke="#000" stroke-width="0.1" />
<circle cx="964.3" cy="446.09999999999997" r="0.9" fill="#fff" stroke="#fff" stroke-width="0.1" />
<circle cx="981.7" cy="446.09999999999997" r="2.6" fill="#000" stroke="#000" stroke-width="0.1" />
<circle cx="981.7" cy="446.09999999999997" r="0.9" fill="#fff" stroke="#fff" stroke-width="0.1" />
<circle cx="973" cy="437.8" r="9.0" fill="#fff" stroke="#000" stroke-width="2.2" />
<rect x="959.8" y="431.2" width="3.4" height="13.2" fill="#000" stroke="#000" stroke-width="1" rx="0" />
<path d="M973.1,403 V437.4" fill="none" stroke="#000" stroke-width="9.8" stroke-linecap="round" stroke-linejoin="round"/>
<path d="M973.1,403 V437.4" fill="none" stroke="#fff" stroke-width="6.0" stroke-linecap="round" stroke-linejoin="round"/>
<line x1="969.6" y1="420.6" x2="977.2" y2="420.6" stroke="#000" stroke-width="1.0" stroke-dasharray="3 1.2"/>
<line x1="969.6" y1="429.4" x2="977.2" y2="429.4" stroke="#000" stroke-width="1.0" stroke-dasharray="3 1.2"/>
<path d="M966.4,437 A6.7,6.7 0 0 0 979.8,437" fill="none" stroke="#000" stroke-width="1.6" />
<path d="M969.6,447 h7 l-1,3 v8 h-5 v-8z" fill="#000" stroke="#000" stroke-width="1" />
<path d="M973,457 V508.2" fill="none" stroke="#000" stroke-width="5.2" stroke-linecap="round" stroke-linejoin="round"/>
<path d="M973,457 V508.2" fill="none" stroke="#fff" stroke-width="2.0" stroke-linecap="round" stroke-linejoin="round"/>
<!--PART5-->
<path d="M952.7,367.9 L935.5,384.9 A53.2,53.2 0 0 0 1011.3,384.9 L994.1,367.9" fill="#fff" stroke="#000" stroke-width="2.8" stroke-linejoin="round"/>
<path d="M954.8,369.8 L939.4,384.6 A50.2,50.2 0 0 0 1007.4,384.6 L992.0,369.8" fill="none" stroke="#000" stroke-width="1.0" />
<circle cx="934" cy="347.2" r="8.0" fill="#fff" stroke="#000" stroke-width="2.2" />
<rect x="938" y="342.6" width="8" height="9.4" fill="#fff" stroke="#fff" stroke-width="0.1" rx="0" />
<line x1="939.4" y1="341.4" x2="945" y2="341.4" stroke="#000" stroke-width="1.6" />
<line x1="939.4" y1="353" x2="945" y2="353" stroke="#000" stroke-width="1.6" />
<rect x="968.4" y="299.8" width="9.6" height="18.2" fill="#000" stroke="#000" stroke-width="1" rx="0" />
<rect x="967.2" y="303.4" width="12.0" height="3.0" fill="#000" stroke="#000" stroke-width="1" rx="1" />
<rect x="966.8" y="310.8" width="12.8" height="2.6" fill="#000" stroke="#000" stroke-width="1" rx="1" />
<rect x="970.6" y="300.6" width="4.8" height="1.6" fill="#888" stroke="#888" stroke-width="0.1" rx="0" />
<rect x="-7.4" y="-2.6" width="14.8" height="5.2" rx="1" fill="#000" transform="translate(948.2 323.2) rotate(-41)"/>
<rect x="-6.4" y="-0.5" width="12.8" height="1.0" fill="#fff" transform="translate(950.4 325.6) rotate(-41)"/>
<circle cx="973.4" cy="347.6" r="29.6" fill="#fff" stroke="#000" stroke-width="3.8" />
<rect x="1001" y="342" width="4.6" height="11" fill="#000" stroke="#000" stroke-width="0.1" rx="0" />
<path d="M957.1,368.4 A26.4,26.4 0 1 1 989.7,368.4" fill="none" stroke="#000" stroke-width="1.0" />
<path d="M957.1,368.4 L951.8,369.2" fill="none" stroke="#000" stroke-width="1.0" />
<path d="M989.7,368.4 L995.0,369.2" fill="none" stroke="#000" stroke-width="1.0" />
<circle cx="973" cy="334.3" r="8.5" fill="#fff" stroke="#000" stroke-width="2.2" />
<rect x="-1.8" y="-1.0" width="3.6" height="2.0" fill="#000" transform="translate(973 334.4) rotate(35)"/>
<circle cx="973" cy="359.9" r="8.5" fill="#fff" stroke="#000" stroke-width="2.2" />
<rect x="-1.8" y="-1.0" width="3.6" height="2.0" fill="#000" transform="translate(973 360) rotate(-65)"/>
<path d="M964.6,330.6 l-3,3.6 l3,3.6" fill="none" stroke="#000" stroke-width="1.6" />
<path d="M964.6,356.2 l-3,3.6 l3,3.6" fill="none" stroke="#000" stroke-width="1.6" />
<circle cx="955.5" cy="347.1" r="7.7" fill="#fff" stroke="#000" stroke-width="3.3" />
<line x1="950.4" y1="347.1" x2="960.6" y2="347.1" stroke="#000" stroke-width="2.4" />
<line x1="955.5" y1="342" x2="955.5" y2="352.2" stroke="#000" stroke-width="2.4" />
<rect x="965.8" y="367.6" width="15.2" height="23.0" fill="#fff" stroke="#000" stroke-width="2.0" rx="0" />
<rect x="965.8" y="367.6" width="15.2" height="6.0" fill="#000" stroke="#000" stroke-width="1" rx="0" />
<path d="M973.2,403.6 V415" fill="none" stroke="#000" stroke-width="9.8" stroke-linecap="butt" stroke-linejoin="round"/>
<path d="M973.2,403.6 V415" fill="none" stroke="#fff" stroke-width="6.6" stroke-linecap="butt" stroke-linejoin="round"/>
<rect x="1003.6" y="342.4" width="3.0" height="10.2" fill="#000" stroke="#000" stroke-width="1" rx="0" />
<path d="M1006,347.4 H1036" fill="none" stroke="#000" stroke-width="10.8" stroke-linecap="butt" stroke-linejoin="round"/>
<path d="M1006,347.4 H1036" fill="none" stroke="#fff" stroke-width="7.2" stroke-linecap="butt" stroke-linejoin="round"/>
<rect x="1035.6" y="340.8" width="3.0" height="13.2" fill="#fff" stroke="#000" stroke-width="1.2" rx="0" />
<circle cx="1073.3" cy="347.1" r="32.6" fill="#fff" stroke="#000" stroke-width="3.6" />
<circle cx="1073" cy="347" r="8.6" fill="#fff" stroke="#000" stroke-width="2.2" />
<line x1="1068.6" y1="344.2" x2="1077.4" y2="344.2" stroke="#000" stroke-width="1.8" />
<line x1="1068.6" y1="350" x2="1077.4" y2="350" stroke="#000" stroke-width="1.8" />
<path d="M1072.6,381.6 V427.4" fill="none" stroke="#000" stroke-width="11.4" stroke-linecap="butt" stroke-linejoin="round"/>
<path d="M1072.6,381.6 V427.4" fill="none" stroke="#fff" stroke-width="7.8" stroke-linecap="butt" stroke-linejoin="round"/>
<line x1="1066.4" y1="381.8" x2="1078.8" y2="381.8" stroke="#000" stroke-width="1.6" />
<path d="M1066,426.2 h13.2 l1.2,1.6 h-15.6z" fill="#000" stroke="#000" stroke-width="1" />
<rect x="1068.6" y="428.4" width="8.0" height="1.2" fill="#999" stroke="#999" stroke-width="0.1" rx="0" />
<line x1="1106.6" y1="347.5" x2="1141.4" y2="347.5" stroke="#000" stroke-width="5.6" />
<rect x="1104.6" y="344" width="3.8" height="7" fill="#000" stroke="#000" stroke-width="0.1" rx="0" />
<rect x="1139" y="344" width="3.6" height="7" fill="#000" stroke="#000" stroke-width="0.1" rx="0" />
<line x1="1118.5" y1="316.2" x2="1118.5" y2="420" stroke="#000" stroke-width="2.2" />
<line x1="1133" y1="316.2" x2="1133" y2="420" stroke="#000" stroke-width="2.2" />
<line x1="1118" y1="347.5" x2="1133" y2="347.5" stroke="#fff" stroke-width="2.0" stroke-dasharray="3.4 1.6"/>
<circle cx="1072.4" cy="459" r="29.4" fill="#fff" stroke="#000" stroke-width="3.3" />
<circle cx="1072.4" cy="459.6" r="7.9" fill="#fff" stroke="#000" stroke-width="3.4" />
<line x1="1066" y1="459.6" x2="1078.8" y2="459.6" stroke="#000" stroke-width="2.0" />
<line x1="1072.4" y1="453.2" x2="1072.4" y2="466" stroke="#000" stroke-width="2.0" />
<path d="M1063.6,490.4 h17.6 l1.4,2.2 l-2,0.6 l-1.6,-0.6 l-2,1 l-2.4,-1 h-3 l-2.4,1 l-2.2,-1 l-2.4,0.4 l-1.6,-0.8z" fill="#000" stroke="#000" stroke-width="1" />
<rect x="1066" y="488.8" width="13" height="1.4" fill="#fff" stroke="#fff" stroke-width="0.1" rx="0" />
<path d="M1105.6,454.6 L1171.4,455.8 a5,5 0 0 1 0,10 L1105.6,465.4z" fill="#fff" stroke="#000" stroke-width="1.7" />
<rect x="1103.2" y="453.6" width="3.0" height="13.0" fill="#fff" stroke="#000" stroke-width="1.2" rx="0" />
<line x1="1164.6" y1="456.6" x2="1164.6" y2="465" stroke="#000" stroke-width="1.0" stroke-dasharray="3 1.2"/>
<!--PART6-->
<path d="M1184,372.4 L1166.8,399 V416 H1177.2 V403.2 L1194.4,369.4" fill="#fff" stroke="#000" stroke-width="1.5" stroke-linejoin="round"/>
<path d="M1166.8,398.6 a5.6,5.6 0 0 0 10.2,3.6" fill="none" stroke="#000" stroke-width="1.2" />
<line x1="1177.8" y1="379.2" x2="1187.4" y2="385.4" stroke="#000" stroke-width="2.4" />
<line x1="1172.6" y1="390" x2="1180.4" y2="395.2" stroke="#000" stroke-width="0.9" stroke-dasharray="2.6 1.4"/>
<line x1="1166.8" y1="409" x2="1177.2" y2="409" stroke="#000" stroke-width="1.2" />
<line x1="1168.4" y1="411.4" x2="1175.6" y2="411.4" stroke="#000" stroke-width="1.2" />
<line x1="1168.4" y1="409" x2="1168.4" y2="411.4" stroke="#000" stroke-width="1" />
<line x1="1175.6" y1="409" x2="1175.6" y2="411.4" stroke="#000" stroke-width="1" />
<rect x="1166" y="414.2" width="12" height="4.2" fill="#000" stroke="#000" stroke-width="1" rx="0" />
<circle cx="1171.3" cy="348.5" r="29.3" fill="#fff" stroke="#000" stroke-width="3.5" />
<rect x="1201.4" y="339.6" width="3.2" height="16.4" fill="#fff" stroke="#000" stroke-width="1.2" rx="0" />
<path d="M1205,338.6 l1.8,1 v2.4 l1.4,1 v2.6 l-1.4,1.6 l1.4,1.6 v2.6 l-1.4,1 v2.4 l-1.8,1z" fill="#000" stroke="#000" stroke-width="1" />
<g transform="translate(1183.3 316.8) rotate(22)"><rect x="-5" y="-3" width="10" height="6.4" rx="2.4" fill="#000"/><circle cx="0" cy="-0.4" r="1.2" fill="#999"/></g>
<rect x="1164.6" y="314.4" width="2.4" height="3.2" fill="#000" stroke="#000" stroke-width="0.1" rx="0" />
<path d="M1171.6,347.6 V286" fill="none" stroke="#000" stroke-width="10.8" stroke-linecap="round"/>
<path d="M1171.6,347.6 V286" fill="none" stroke="#fff" stroke-width="7.6" stroke-linecap="round"/>
<path d="M1166.6,347.4 A5.1,5.1 0 0 0 1176.8,347.4" fill="none" stroke="#000" stroke-width="2.8" />
<line x1="1166" y1="292.6" x2="1177.4" y2="292.6" stroke="#000" stroke-width="1.2" stroke-dasharray="3 1.4"/>
<line x1="1164.6" y1="294.2" x2="1166" y2="294.2" stroke="#000" stroke-width="1" />
<line x1="1177.4" y1="294.2" x2="1179" y2="294.2" stroke="#000" stroke-width="1" />
<circle cx="1171.4" cy="284.6" r="6.2" fill="#fff" stroke="#000" stroke-width="1.5" />
<line x1="1171.4" y1="278.6" x2="1171.4" y2="290.6" stroke="#000" stroke-width="1.2" />
<circle cx="1171.4" cy="284.6" r="4.2" fill="none" stroke="#bbb" stroke-width="0.6" />
<rect x="1179.2" y="342.6" width="7.4" height="11.6" fill="#000" stroke="#000" stroke-width="0.1" rx="2.6" />
<path d="M1181.4,346.4 l3,4 m0,-4 l-3,4" fill="none" stroke="#fff" stroke-width="1.1" />
<rect x="1147.6" y="426.2" width="42.0" height="63.0" fill="#fff" stroke="#000" stroke-width="2.6" rx="1.6" />
<rect x="1151.8" y="419.4" width="6.8" height="68.6" fill="#fff" stroke="#000" stroke-width="1.6" rx="1.6" />
<line x1="1150.2" y1="428" x2="1150.2" y2="487" stroke="#777" stroke-width="0.9" />
<line x1="1152.4" y1="430.4" x2="1158" y2="430.4" stroke="#000" stroke-width="1.0" />
<line x1="1152.4" y1="479" x2="1158" y2="479" stroke="#000" stroke-width="1.0" />
<line x1="1152.4" y1="483" x2="1158" y2="483" stroke="#000" stroke-width="1.0" />
<rect x="1185.2" y="423.4" width="4.4" height="64.6" fill="#fff" stroke="#000" stroke-width="1.8" rx="1.2" />
<line x1="1186.6" y1="430" x2="1186.6" y2="486" stroke="#000" stroke-width="0.9" stroke-dasharray="6 1.5"/>
<rect x="1159.8" y="421" width="25.8" height="33" fill="#000" stroke="#000" stroke-width="0.1" rx="3" />
<rect x="1165.6" y="414" width="12.8" height="9" fill="#000" stroke="#000" stroke-width="0.1" rx="0" />
<rect x="1164.5" y="424.2" width="1.8" height="3.0" fill="#fff" stroke="#fff" stroke-width="0.1" rx="0.6" />
<rect x="1164.5" y="449.6" width="1.8" height="3.0" fill="#fff" stroke="#fff" stroke-width="0.1" rx="0.6" />
<rect x="1168.8999999999999" y="424.2" width="1.8" height="3.0" fill="#fff" stroke="#fff" stroke-width="0.1" rx="0.6" />
<rect x="1168.8999999999999" y="449.6" width="1.8" height="3.0" fill="#fff" stroke="#fff" stroke-width="0.1" rx="0.6" />
<rect x="1173.6999999999998" y="424.2" width="1.8" height="3.0" fill="#fff" stroke="#fff" stroke-width="0.1" rx="0.6" />
<rect x="1173.6999999999998" y="449.6" width="1.8" height="3.0" fill="#fff" stroke="#fff" stroke-width="0.1" rx="0.6" />
<rect x="1178.3" y="424.2" width="1.8" height="3.0" fill="#fff" stroke="#fff" stroke-width="0.1" rx="0.6" />
<rect x="1178.3" y="449.6" width="1.8" height="3.0" fill="#fff" stroke="#fff" stroke-width="0.1" rx="0.6" />
<rect x="1167.4" y="417.4" width="3.6" height="1.2" fill="#fff" stroke="#fff" stroke-width="0.1" rx="0" />
<rect x="1173" y="417.4" width="3.6" height="1.2" fill="#fff" stroke="#fff" stroke-width="0.1" rx="0" />
<circle cx="1172.5" cy="437.9" r="9.9" fill="#fff" stroke="#000" stroke-width="1.2" />
<circle cx="1172.5" cy="437.9" r="2.9" fill="#fff" stroke="#000" stroke-width="1.5" />
<rect x="1178.4" y="455.4" width="5.0" height="9.0" fill="#fff" stroke="#000" stroke-width="1.4" rx="0" />
<rect x="1182.6" y="466" width="3.0" height="20" fill="#fff" stroke="#000" stroke-width="1.2" rx="0" />
<line x1="1182.6" y1="476" x2="1185.6" y2="476" stroke="#000" stroke-width="0.9" />
<line x1="1182.6" y1="480.6" x2="1185.6" y2="480.6" stroke="#000" stroke-width="0.9" />
<rect x="1157.4" y="465.8" width="24.8" height="23.8" fill="#000" stroke="#000" stroke-width="0.1" rx="0" />
<rect x="1159.6" y="454" width="6.4" height="3" fill="#000" stroke="#000" stroke-width="0.1" rx="0" />
<path d="M1105.6,454.6 L1171.4,455.8 a5,5 0 0 1 0,10 L1105.6,465.4z" fill="#fff" stroke="#000" stroke-width="1.7" />
<rect x="1103.2" y="453.6" width="3.0" height="13.0" fill="#fff" stroke="#000" stroke-width="1.2" rx="0" />
<line x1="1164.6" y1="456.6" x2="1164.6" y2="465" stroke="#000" stroke-width="1.0" stroke-dasharray="3 1.2"/>
<!--PART7-->
<path d="M1365.2,200 V370 a3,3 0 0 0 3,3 H1402" fill="none" stroke="#000" stroke-width="4.8" stroke-linecap="butt" stroke-linejoin="round"/>
<path d="M1365.2,200 V370 a3,3 0 0 0 3,3 H1402" fill="none" stroke="#fff" stroke-width="1.9" stroke-linecap="butt" stroke-linejoin="round"/>
<path d="M1379.4,200 V311.2 a3,3 0 0 0 3,3 H1527.2 a3,3 0 0 1 3,3 V370.6 a3,3 0 0 0 3,3 H1537" fill="none" stroke="#000" stroke-width="4.8" stroke-linecap="butt" stroke-linejoin="round"/>
<path d="M1379.4,200 V311.2 a3,3 0 0 0 3,3 H1527.2 a3,3 0 0 1 3,3 V370.6 a3,3 0 0 0 3,3 H1537" fill="none" stroke="#fff" stroke-width="1.9" stroke-linecap="butt" stroke-linejoin="round"/>
<path d="M1366,339.9 H1402" fill="none" stroke="#000" stroke-width="4.4" stroke-linecap="butt" stroke-linejoin="round"/>
<path d="M1366,339.9 H1402" fill="none" stroke="#fff" stroke-width="1.6" stroke-linecap="butt" stroke-linejoin="round"/>
<rect x="1360" y="256.4" width="26" height="16.9" fill="#fff" stroke="#fff" stroke-width="0.1" rx="0" />
<line x1="1359" y1="256.4" x2="1387" y2="256.4" stroke="#000" stroke-width="1.5" />
<line x1="1359" y1="260.4" x2="1387" y2="260.4" stroke="#000" stroke-width="2.5" />
<line x1="1359" y1="265.5" x2="1387" y2="265.5" stroke="#000" stroke-width="2.3" />
<line x1="1359" y1="268.4" x2="1387" y2="268.4" stroke="#666" stroke-width="1.1" />
<line x1="1359" y1="270.3" x2="1387" y2="270.3" stroke="#555" stroke-width="1.1" />
<line x1="1359" y1="273.3" x2="1387" y2="273.3" stroke="#000" stroke-width="1.5" />
<path d="M1547.4,258 V391" fill="none" stroke="#000" stroke-width="12.8" stroke-linecap="butt" stroke-linejoin="round"/>
<path d="M1547.4,258 V391" fill="none" stroke="#fff" stroke-width="9.2" stroke-linecap="butt" stroke-linejoin="round"/>
<path d="M1584.9,258 V391" fill="none" stroke="#000" stroke-width="12.8" stroke-linecap="butt" stroke-linejoin="round"/>
<path d="M1584.9,258 V391" fill="none" stroke="#fff" stroke-width="9.2" stroke-linecap="butt" stroke-linejoin="round"/>
<line x1="1541" y1="258" x2="1553.8" y2="258" stroke="#000" stroke-width="1.8" />
<line x1="1578.5" y1="258" x2="1591.3" y2="258" stroke="#000" stroke-width="1.8" />
<path d="M1330,292.1 H1561" fill="none" stroke="#000" stroke-width="10.0" stroke-linecap="butt" stroke-linejoin="round"/>
<path d="M1330,292.1 H1561" fill="none" stroke="#fff" stroke-width="7.0" stroke-linecap="butt" stroke-linejoin="round"/>
<line x1="1561" y1="286.6" x2="1561" y2="297.6" stroke="#000" stroke-width="2.0" />
<path d="M1562,287.4 l2,1 v1.5 l1.4,0.8 v2.6 l-1.4,0.8 v1.5 l-2,1z" fill="#000" stroke="#000" stroke-width="1" />
<path d="M1399,256.4 H1411.8000000000002 a2.6,2.6 0 0 0 2.6,-2.6 V236" fill="none" stroke="#000" stroke-width="1.5" />
<path d="M1399,260.4 H1415.2 a2.6,2.6 0 0 0 2.6,-2.6 V236" fill="none" stroke="#000" stroke-width="1.8" />
<path d="M1399,260.4 H1419.0 a2.6,2.6 0 0 0 2.6,-2.6 V192" fill="none" stroke="#000" stroke-width="1.2" />
<path d="M1399,265.5 H1424.0 a2.6,2.6 0 0 0 2.6,-2.6 V192" fill="none" stroke="#000" stroke-width="2.0" />
<line x1="1399" y1="260.4" x2="1418" y2="260.4" stroke="#000" stroke-width="2.5" />
<line x1="1399" y1="265.5" x2="1450" y2="265.5" stroke="#000" stroke-width="2.3" />
<path d="M1399,265.5 H1447.8000000000002 a2.6,2.6 0 0 0 2.6,-2.6 V236" fill="none" stroke="#000" stroke-width="1.4" />
<path d="M1399,268.4 H1449.8000000000002 a2.6,2.6 0 0 0 2.6,-2.6 V236" fill="none" stroke="#666" stroke-width="1.1" />
<path d="M1399,270.3 H1451.8000000000002 a2.6,2.6 0 0 0 2.6,-2.6 V236" fill="none" stroke="#555" stroke-width="1.1" />
<path d="M1399,273.3 H1455.2 a2.6,2.6 0 0 0 2.6,-2.6 V236" fill="none" stroke="#000" stroke-width="1.5" />
<!--PART8-->
<rect x="1421.8" y="297.6" width="8.4" height="14.4" fill="#000" stroke="#000" stroke-width="1" rx="0" />
<rect x="1423.4" y="298.6" width="4.2" height="1.8" fill="#fff" stroke="#fff" stroke-width="0.1" rx="0" />
<rect x="1420.6" y="300.8" width="10.8" height="1.6" fill="#000" stroke="#000" stroke-width="0.1" rx="0" />
<rect x="1420.6" y="306.6" width="10.8" height="1.6" fill="#000" stroke="#000" stroke-width="0.1" rx="0" />
<rect x="1423.0" y="304.6" width="5.6" height="1.2" fill="#fff" stroke="#fff" stroke-width="0.1" rx="0" />
<rect x="1423.0" y="309.2" width="5.6" height="1.0" fill="#fff" stroke="#fff" stroke-width="0.1" rx="0" />
<rect x="1427.0" y="302.2" width="12.4" height="2.6" fill="#000" stroke="#000" stroke-width="0.1" rx="1.2" />
<path d="M1413.8,317.6 L1421.0,311.6 H1431.0 L1438.8,317.6z" fill="#fff" stroke="#000" stroke-width="1.5" />
<path d="M1410.8,377.2 L1421.2,384 H1430.8 L1439.8,377.2z" fill="#fff" stroke="#000" stroke-width="1.5" />
<rect x="1420.6" y="384" width="10.8" height="1.6" fill="#000" stroke="#000" stroke-width="0.1" rx="0" />
<rect x="1422.2" y="385.6" width="7.6" height="5.4" fill="#fff" stroke="#000" stroke-width="1.2" rx="0" />
<rect x="1404.2" y="317.6" width="39.6" height="59.6" fill="#000" stroke="#000" stroke-width="0.1" rx="1.5" />
<rect x="1412.8" y="321.6" width="11.6" height="11.0" fill="#fff" stroke="#fff" stroke-width="0.1" rx="0" />
<rect x="1412.8" y="336.40000000000003" width="11.6" height="16.6" fill="#fff" stroke="#fff" stroke-width="0.1" rx="0" />
<rect x="1412.8" y="356.8" width="11.6" height="16.8" fill="#fff" stroke="#fff" stroke-width="0.1" rx="0" />
<rect x="1428.0" y="321.6" width="11.8" height="11.0" fill="#fff" stroke="#fff" stroke-width="0.1" rx="0" />
<rect x="1428.0" y="336.40000000000003" width="11.8" height="16.6" fill="#fff" stroke="#fff" stroke-width="0.1" rx="0" />
<rect x="1428.0" y="356.8" width="11.8" height="16.8" fill="#fff" stroke="#fff" stroke-width="0.1" rx="0" />
<rect x="1407.2" y="323.20000000000005" width="2.0" height="8.4" fill="#fff" stroke="#fff" stroke-width="0.1" rx="0" />
<rect x="1407.2" y="334.0" width="2.0" height="3.6" fill="#fff" stroke="#fff" stroke-width="0.1" rx="0" />
<rect x="1407.2" y="341.6" width="2.0" height="29.0" fill="#fff" stroke="#fff" stroke-width="0.1" rx="0" />
<rect x="1406.6000000000001" y="372.6" width="4.0" height="1.6" fill="#fff" stroke="#fff" stroke-width="0.1" rx="0" />
<rect x="1406.8" y="316.8" width="4.4" height="1.4" fill="#fff" stroke="#fff" stroke-width="0.1" rx="0" />
<rect x="1401.0" y="321.0" width="4.2" height="7.2" fill="#000" stroke="#000" stroke-width="0.1" rx="1.8" />
<rect x="1400.8" y="337.6" width="4.4" height="5.0" fill="#000" stroke="#000" stroke-width="0.1" rx="1.2" />
<rect x="1401.2" y="346.6" width="4.0" height="22.0" fill="#000" stroke="#000" stroke-width="0.1" rx="1.2" />
<rect x="1402.4" y="348.6" width="1.2" height="18.0" fill="#fff" stroke="#fff" stroke-width="0.1" rx="0" />
<rect x="1400.8" y="372.0" width="4.4" height="5.0" fill="#000" stroke="#000" stroke-width="0.1" rx="1.2" />
<rect x="1442.8" y="325.6" width="3.8" height="7.4" fill="#000" stroke="#000" stroke-width="0.1" rx="1.8" />
<path d="M1450.3999999999999,379 V391" fill="none" stroke="#000" stroke-width="9.8" stroke-linecap="butt" stroke-linejoin="round"/>
<path d="M1450.3999999999999,379 V391" fill="none" stroke="#fff" stroke-width="7.4" stroke-linecap="butt" stroke-linejoin="round"/>
<circle cx="1450.3999999999999" cy="367.6" r="10.1" fill="#fff" stroke="#000" stroke-width="2.3" />
<path d="M1445.6,350 a4.8,4.8 0 0 1 9.6,0 V370.2 a4.8,4.8 0 0 1 -9.6,0z" fill="#fff" stroke="#000" stroke-width="1.5" />
<path d="M1447.1999999999998,368.6 a3.2,2.6 0 0 0 6.4,0" fill="none" stroke="#555" stroke-width="0.9" />
<rect x="1553.1999999999998" y="297.6" width="8.4" height="14.4" fill="#000" stroke="#000" stroke-width="1" rx="0" />
<rect x="1554.8" y="298.6" width="4.2" height="1.8" fill="#fff" stroke="#fff" stroke-width="0.1" rx="0" />
<rect x="1551.9999999999998" y="300.8" width="10.8" height="1.6" fill="#000" stroke="#000" stroke-width="0.1" rx="0" />
<rect x="1551.9999999999998" y="306.6" width="10.8" height="1.6" fill="#000" stroke="#000" stroke-width="0.1" rx="0" />
<rect x="1554.3999999999999" y="304.6" width="5.6" height="1.2" fill="#fff" stroke="#fff" stroke-width="0.1" rx="0" />
<rect x="1554.3999999999999" y="309.2" width="5.6" height="1.0" fill="#fff" stroke="#fff" stroke-width="0.1" rx="0" />
<rect x="1558.3999999999999" y="302.2" width="12.4" height="2.6" fill="#000" stroke="#000" stroke-width="0.1" rx="1.2" />
<path d="M1545.1999999999998,317.6 L1552.3999999999999,311.6 H1562.3999999999999 L1570.1999999999998,317.6z" fill="#fff" stroke="#000" stroke-width="1.5" />
<path d="M1542.1999999999998,377.2 L1552.6,384 H1562.1999999999998 L1571.1999999999998,377.2z" fill="#fff" stroke="#000" stroke-width="1.5" />
<rect x="1551.9999999999998" y="384" width="10.8" height="1.6" fill="#000" stroke="#000" stroke-width="0.1" rx="0" />
<rect x="1553.6" y="385.6" width="7.6" height="5.4" fill="#fff" stroke="#000" stroke-width="1.2" rx="0" />
<rect x="1535.6" y="317.6" width="39.6" height="59.6" fill="#000" stroke="#000" stroke-width="0.1" rx="1.5" />
<rect x="1544.1999999999998" y="321.6" width="11.6" height="11.0" fill="#fff" stroke="#fff" stroke-width="0.1" rx="0" />
<rect x="1544.1999999999998" y="336.40000000000003" width="11.6" height="16.6" fill="#fff" stroke="#fff" stroke-width="0.1" rx="0" />
<rect x="1544.1999999999998" y="356.8" width="11.6" height="16.8" fill="#fff" stroke="#fff" stroke-width="0.1" rx="0" />
<rect x="1559.3999999999999" y="321.6" width="11.8" height="11.0" fill="#fff" stroke="#fff" stroke-width="0.1" rx="0" />
<rect x="1559.3999999999999" y="336.40000000000003" width="11.8" height="16.6" fill="#fff" stroke="#fff" stroke-width="0.1" rx="0" />
<rect x="1559.3999999999999" y="356.8" width="11.8" height="16.8" fill="#fff" stroke="#fff" stroke-width="0.1" rx="0" />
<rect x="1538.6" y="323.20000000000005" width="2.0" height="8.4" fill="#fff" stroke="#fff" stroke-width="0.1" rx="0" />
<rect x="1538.6" y="334.0" width="2.0" height="3.6" fill="#fff" stroke="#fff" stroke-width="0.1" rx="0" />
<rect x="1538.6" y="341.6" width="2.0" height="29.0" fill="#fff" stroke="#fff" stroke-width="0.1" rx="0" />
<rect x="1538.0" y="372.6" width="4.0" height="1.6" fill="#fff" stroke="#fff" stroke-width="0.1" rx="0" />
<rect x="1538.1999999999998" y="316.8" width="4.4" height="1.4" fill="#fff" stroke="#fff" stroke-width="0.1" rx="0" />
<rect x="1532.3999999999999" y="321.0" width="4.2" height="7.2" fill="#000" stroke="#000" stroke-width="0.1" rx="1.8" />
<rect x="1532.1999999999998" y="337.6" width="4.4" height="5.0" fill="#000" stroke="#000" stroke-width="0.1" rx="1.2" />
<rect x="1532.6" y="346.6" width="4.0" height="22.0" fill="#000" stroke="#000" stroke-width="0.1" rx="1.2" />
<rect x="1533.8" y="348.6" width="1.2" height="18.0" fill="#fff" stroke="#fff" stroke-width="0.1" rx="0" />
<rect x="1532.1999999999998" y="372.0" width="4.4" height="5.0" fill="#000" stroke="#000" stroke-width="0.1" rx="1.2" />
<rect x="1574.1999999999998" y="325.6" width="3.8" height="7.4" fill="#000" stroke="#000" stroke-width="0.1" rx="1.8" />
<path d="M1581.7999999999997,379 V391" fill="none" stroke="#000" stroke-width="9.8" stroke-linecap="butt" stroke-linejoin="round"/>
<path d="M1581.7999999999997,379 V391" fill="none" stroke="#fff" stroke-width="7.4" stroke-linecap="butt" stroke-linejoin="round"/>
<circle cx="1581.7999999999997" cy="367.6" r="10.1" fill="#fff" stroke="#000" stroke-width="2.3" />
<path d="M1576.9999999999998,350 a4.8,4.8 0 0 1 9.6,0 V370.2 a4.8,4.8 0 0 1 -9.6,0z" fill="#fff" stroke="#000" stroke-width="1.5" />
<path d="M1578.5999999999997,368.6 a3.2,2.6 0 0 0 6.4,0" fill="none" stroke="#555" stroke-width="0.9" />
<rect x="1400.0" y="337.5" width="4.0" height="4.8" fill="#000" stroke="#000" stroke-width="0.1" rx="0" />
<rect x="1400.0" y="370.6" width="4.0" height="4.8" fill="#000" stroke="#000" stroke-width="0.1" rx="0" />
<rect x="1532.6" y="370.6" width="4.0" height="4.8" fill="#000" stroke="#000" stroke-width="0.1" rx="0" />
<rect x="1406.3" y="190.2" width="7.1" height="14.2" fill="#fff" stroke="#000" stroke-width="2.2" rx="0" />
<rect x="1460.0" y="190.2" width="7.1" height="14.2" fill="#fff" stroke="#000" stroke-width="2.2" rx="0" />
<rect x="1405.2" y="105.4" width="63.0" height="85.8" fill="#000" stroke="#000" stroke-width="0.1" rx="1.5" />
<rect x="1411.0" y="109.60000000000001" width="51.5" height="78.6" fill="#fff" stroke="#fff" stroke-width="0.1" rx="0" />
<rect x="1406.0" y="104.2" width="6.4" height="2.2" fill="#000" stroke="#000" stroke-width="0.1" rx="1" />
<rect x="1432.0" y="104.2" width="6.4" height="2.2" fill="#000" stroke="#000" stroke-width="0.1" rx="1" />
<rect x="1458.8" y="104.2" width="6.4" height="2.2" fill="#000" stroke="#000" stroke-width="0.1" rx="1" />
<circle cx="1408.0" cy="107.80000000000001" r="0.7" fill="#fff" stroke="#fff" stroke-width="0.1" />
<circle cx="1465.4" cy="107.80000000000001" r="0.7" fill="#fff" stroke="#fff" stroke-width="0.1" />
<circle cx="1422.6000000000001" cy="126.3" r="12.7" fill="#000" stroke="#000" stroke-width="0.1" />
<circle cx="1422.6000000000001" cy="126.3" r="0.5" fill="#777" stroke="#777" stroke-width="0.1" />
<circle cx="1422.6000000000001" cy="172.6" r="12.7" fill="#000" stroke="#000" stroke-width="0.1" />
<circle cx="1422.6000000000001" cy="172.6" r="0.5" fill="#777" stroke="#777" stroke-width="0.1" />
<circle cx="1450.4" cy="126.3" r="12.7" fill="#000" stroke="#000" stroke-width="0.1" />
<circle cx="1450.4" cy="126.3" r="0.5" fill="#777" stroke="#777" stroke-width="0.1" />
<circle cx="1450.4" cy="172.6" r="12.7" fill="#000" stroke="#000" stroke-width="0.1" />
<circle cx="1450.4" cy="172.6" r="0.5" fill="#777" stroke="#777" stroke-width="0.1" />
<rect x="1423.2" y="192.2" width="22.0" height="12.4" fill="#000" stroke="#000" stroke-width="0.1" rx="0" />
<rect x="1428.2" y="193.2" width="4.0" height="1.6" fill="#fff" stroke="#fff" stroke-width="0.1" rx="0" />
<rect x="1433.8" y="194.39999999999998" width="4.6" height="6.2" fill="#fff" stroke="#fff" stroke-width="0.1" rx="2" />
<rect x="1442.4" y="196.2" width="1.8" height="4.4" fill="#fff" stroke="#fff" stroke-width="0.1" rx="0.8" />
<rect x="1439.2" y="203" width="5.6" height="2" fill="#fff" stroke="#fff" stroke-width="0.1" rx="0" />
<path d="M1424.7,192.2 V258" fill="none" stroke="#000" stroke-width="4.4" stroke-linecap="butt" stroke-linejoin="round"/>
<path d="M1424.7,192.2 V258" fill="none" stroke="#fff" stroke-width="1.6" stroke-linecap="butt" stroke-linejoin="round"/>
<path d="M1447.9,192.2 V208" fill="none" stroke="#000" stroke-width="3.4" stroke-linecap="butt" stroke-linejoin="round"/>
<path d="M1447.9,192.2 V208" fill="none" stroke="#fff" stroke-width="1.2" stroke-linecap="butt" stroke-linejoin="round"/>
<rect x="1421.8" y="191.79999999999998" width="5.8" height="2.0" fill="#000" stroke="#000" stroke-width="0.1" rx="0" />
<rect x="1445.2" y="191.79999999999998" width="5.6" height="2.0" fill="#000" stroke="#000" stroke-width="0.1" rx="0" />
<path d="M1399.3,217 V211.4 a3,3 0 0 1 3,-3 H1424.7" fill="none" stroke="#000" stroke-width="4.2" />
<path d="M1399.3,217 V211.4 a3,3 0 0 1 3,-3 H1424.7" fill="none" stroke="#fff" stroke-width="1.5" />
<rect x="1392.3" y="215.2" width="31.0" height="17.6" fill="#000" stroke="#000" stroke-width="0.1" rx="7" />
<path d="M1396.3,219.6 H1417.8999999999999 l2.2,2 V228.4 l-2.4,2.2 H1396.3z" fill="#fff" stroke="#fff" stroke-width="0.1" />
<circle cx="1419.8999999999999" cy="219.6" r="0.9" fill="#fff" stroke="#fff" stroke-width="0.1" />
<rect x="1402.1" y="236" width="14.2" height="19.6" fill="#000" stroke="#000" stroke-width="0.1" rx="2.4" />
<rect x="1404.8999999999999" y="232.4" width="13.4" height="4.2" fill="#000" stroke="#000" stroke-width="0.1" rx="0" />
<rect x="1407.3" y="233.6" width="2.4" height="2.4" fill="#fff" stroke="#fff" stroke-width="0.1" rx="0" />
<rect x="1411.7" y="233.6" width="2.2" height="2.4" fill="#fff" stroke="#fff" stroke-width="0.1" rx="0" />
<rect x="1415.7" y="233.6" width="1.6" height="2.4" fill="#fff" stroke="#fff" stroke-width="0.1" rx="0" />
<rect x="1407.3" y="239" width="2.0" height="1.4" fill="#fff" stroke="#fff" stroke-width="0.1" rx="0" />
<rect x="1410.0" y="239" width="2.0" height="1.4" fill="#fff" stroke="#fff" stroke-width="0.1" rx="0" />
<rect x="1412.7" y="239" width="2.0" height="1.4" fill="#fff" stroke="#fff" stroke-width="0.1" rx="0" />
<rect x="1404.7" y="251.4" width="7.0" height="2.4" fill="#fff" stroke="#fff" stroke-width="0.1" rx="1" />
<rect x="1414.7" y="240.6" width="1.8" height="14.4" fill="#fff" stroke="#fff" stroke-width="0.1" rx="0" />
<path d="M1436.4,217 V211.4 a3,3 0 0 1 3,-3 H1460.0 a3,3 0 0 1 3,3 V232 a3,3 0 0 1 -3,3 H1455.0" fill="none" stroke="#000" stroke-width="4.2" />
<path d="M1436.4,217 V211.4 a3,3 0 0 1 3,-3 H1460.0 a3,3 0 0 1 3,3 V232 a3,3 0 0 1 -3,3 H1455.0" fill="none" stroke="#fff" stroke-width="1.5" />
<rect x="1429.4" y="215.2" width="31.0" height="17.6" fill="#000" stroke="#000" stroke-width="0.1" rx="7" />
<path d="M1433.4,219.6 H1455.0 l2.2,2 V228.4 l-2.4,2.2 H1433.4z" fill="#fff" stroke="#fff" stroke-width="0.1" />
<circle cx="1457.0" cy="219.6" r="0.9" fill="#fff" stroke="#fff" stroke-width="0.1" />
<rect x="1439.2" y="236" width="14.2" height="19.6" fill="#000" stroke="#000" stroke-width="0.1" rx="2.4" />
<rect x="1442.0" y="232.4" width="13.4" height="4.2" fill="#000" stroke="#000" stroke-width="0.1" rx="0" />
<rect x="1444.4" y="233.6" width="2.4" height="2.4" fill="#fff" stroke="#fff" stroke-width="0.1" rx="0" />
<rect x="1448.8000000000002" y="233.6" width="2.2" height="2.4" fill="#fff" stroke="#fff" stroke-width="0.1" rx="0" />
<rect x="1452.8000000000002" y="233.6" width="1.6" height="2.4" fill="#fff" stroke="#fff" stroke-width="0.1" rx="0" />
<rect x="1444.4" y="239" width="2.0" height="1.4" fill="#fff" stroke="#fff" stroke-width="0.1" rx="0" />
<rect x="1447.1000000000001" y="239" width="2.0" height="1.4" fill="#fff" stroke="#fff" stroke-width="0.1" rx="0" />
<rect x="1449.8000000000002" y="239" width="2.0" height="1.4" fill="#fff" stroke="#fff" stroke-width="0.1" rx="0" />
<rect x="1441.8000000000002" y="251.4" width="7.0" height="2.4" fill="#fff" stroke="#fff" stroke-width="0.1" rx="1" />
<rect x="1451.8000000000002" y="240.6" width="1.8" height="14.4" fill="#fff" stroke="#fff" stroke-width="0.1" rx="0" />
<rect x="1537.8999999999999" y="190.2" width="7.1" height="14.2" fill="#fff" stroke="#000" stroke-width="2.2" rx="0" />
<rect x="1591.6" y="190.2" width="7.1" height="14.2" fill="#fff" stroke="#000" stroke-width="2.2" rx="0" />
<rect x="1536.8" y="105.4" width="63.0" height="85.8" fill="#000" stroke="#000" stroke-width="0.1" rx="1.5" />
<rect x="1542.6" y="109.60000000000001" width="51.5" height="78.6" fill="#fff" stroke="#fff" stroke-width="0.1" rx="0" />
<rect x="1537.6" y="104.2" width="6.4" height="2.2" fill="#000" stroke="#000" stroke-width="0.1" rx="1" />
<rect x="1563.6" y="104.2" width="6.4" height="2.2" fill="#000" stroke="#000" stroke-width="0.1" rx="1" />
<rect x="1590.3999999999999" y="104.2" width="6.4" height="2.2" fill="#000" stroke="#000" stroke-width="0.1" rx="1" />
<circle cx="1539.6" cy="107.80000000000001" r="0.7" fill="#fff" stroke="#fff" stroke-width="0.1" />
<circle cx="1597.0" cy="107.80000000000001" r="0.7" fill="#fff" stroke="#fff" stroke-width="0.1" />
<circle cx="1554.2" cy="126.3" r="12.7" fill="#000" stroke="#000" stroke-width="0.1" />
<circle cx="1554.2" cy="126.3" r="0.5" fill="#777" stroke="#777" stroke-width="0.1" />
<circle cx="1554.2" cy="172.6" r="12.7" fill="#000" stroke="#000" stroke-width="0.1" />
<circle cx="1554.2" cy="172.6" r="0.5" fill="#777" stroke="#777" stroke-width="0.1" />
<circle cx="1582.0" cy="126.3" r="12.7" fill="#000" stroke="#000" stroke-width="0.1" />
<circle cx="1582.0" cy="126.3" r="0.5" fill="#777" stroke="#777" stroke-width="0.1" />
<circle cx="1582.0" cy="172.6" r="12.7" fill="#000" stroke="#000" stroke-width="0.1" />
<circle cx="1582.0" cy="172.6" r="0.5" fill="#777" stroke="#777" stroke-width="0.1" />
<rect x="1554.8" y="192.2" width="22.0" height="12.4" fill="#000" stroke="#000" stroke-width="0.1" rx="0" />
<rect x="1559.8" y="193.2" width="4.0" height="1.6" fill="#fff" stroke="#fff" stroke-width="0.1" rx="0" />
<rect x="1565.3999999999999" y="194.39999999999998" width="4.6" height="6.2" fill="#fff" stroke="#fff" stroke-width="0.1" rx="2" />
<rect x="1574.0" y="196.2" width="1.8" height="4.4" fill="#fff" stroke="#fff" stroke-width="0.1" rx="0.8" />
<rect x="1570.8" y="203" width="5.6" height="2" fill="#fff" stroke="#fff" stroke-width="0.1" rx="0" />
<path d="M1556.0,192.2 V208" fill="none" stroke="#000" stroke-width="4.4" stroke-linecap="butt" stroke-linejoin="round"/>
<path d="M1556.0,192.2 V208" fill="none" stroke="#fff" stroke-width="1.6" stroke-linecap="butt" stroke-linejoin="round"/>
<path d="M1579.5,192.2 V208" fill="none" stroke="#000" stroke-width="3.4" stroke-linecap="butt" stroke-linejoin="round"/>
<path d="M1579.5,192.2 V208" fill="none" stroke="#fff" stroke-width="1.2" stroke-linecap="butt" stroke-linejoin="round"/>
<rect x="1553.3999999999999" y="191.79999999999998" width="5.8" height="2.0" fill="#000" stroke="#000" stroke-width="0.1" rx="0" />
<rect x="1576.8" y="191.79999999999998" width="5.6" height="2.0" fill="#000" stroke="#000" stroke-width="0.1" rx="0" />
<path d="M1531.3999999999999,217 V211.4 a3,3 0 0 1 3,-3 H1553.0 a3,3 0 0 1 3,3 V232 a3,3 0 0 1 -3,3 H1548.0" fill="none" stroke="#000" stroke-width="4.2" />
<path d="M1531.3999999999999,217 V211.4 a3,3 0 0 1 3,-3 H1553.0 a3,3 0 0 1 3,3 V232 a3,3 0 0 1 -3,3 H1548.0" fill="none" stroke="#fff" stroke-width="1.5" />
<rect x="1524.3999999999999" y="215.2" width="31.0" height="17.6" fill="#000" stroke="#000" stroke-width="0.1" rx="7" />
<path d="M1528.3999999999999,219.6 H1549.9999999999998 l2.2,2 V228.4 l-2.4,2.2 H1528.3999999999999z" fill="#fff" stroke="#fff" stroke-width="0.1" />
<circle cx="1551.9999999999998" cy="219.6" r="0.9" fill="#fff" stroke="#fff" stroke-width="0.1" />
<rect x="1534.1999999999998" y="236" width="14.2" height="19.6" fill="#000" stroke="#000" stroke-width="0.1" rx="2.4" />
<rect x="1536.9999999999998" y="232.4" width="13.4" height="4.2" fill="#000" stroke="#000" stroke-width="0.1" rx="0" />
<rect x="1539.3999999999999" y="233.6" width="2.4" height="2.4" fill="#fff" stroke="#fff" stroke-width="0.1" rx="0" />
<rect x="1543.8" y="233.6" width="2.2" height="2.4" fill="#fff" stroke="#fff" stroke-width="0.1" rx="0" />
<rect x="1547.8" y="233.6" width="1.6" height="2.4" fill="#fff" stroke="#fff" stroke-width="0.1" rx="0" />
<rect x="1539.3999999999999" y="239" width="2.0" height="1.4" fill="#fff" stroke="#fff" stroke-width="0.1" rx="0" />
<rect x="1542.1" y="239" width="2.0" height="1.4" fill="#fff" stroke="#fff" stroke-width="0.1" rx="0" />
<rect x="1544.8" y="239" width="2.0" height="1.4" fill="#fff" stroke="#fff" stroke-width="0.1" rx="0" />
<rect x="1536.8" y="251.4" width="7.0" height="2.4" fill="#fff" stroke="#fff" stroke-width="0.1" rx="1" />
<rect x="1546.8" y="240.6" width="1.8" height="14.4" fill="#fff" stroke="#fff" stroke-width="0.1" rx="0" />
<path d="M1548.6999999999998,236.6 V264" fill="none" stroke="#000" stroke-width="4.2" stroke-linecap="butt" stroke-linejoin="round"/>
<path d="M1548.6999999999998,236.6 V264" fill="none" stroke="#fff" stroke-width="1.5" stroke-linecap="butt" stroke-linejoin="round"/>
<path d="M1568.2,217 V211.4 a3,3 0 0 1 3,-3 H1591.8 a3,3 0 0 1 3,3 V232 a3,3 0 0 1 -3,3 H1586.8" fill="none" stroke="#000" stroke-width="4.2" />
<path d="M1568.2,217 V211.4 a3,3 0 0 1 3,-3 H1591.8 a3,3 0 0 1 3,3 V232 a3,3 0 0 1 -3,3 H1586.8" fill="none" stroke="#fff" stroke-width="1.5" />
<rect x="1561.2" y="215.2" width="31.0" height="17.6" fill="#000" stroke="#000" stroke-width="0.1" rx="7" />
<path d="M1565.2,219.6 H1586.8 l2.2,2 V228.4 l-2.4,2.2 H1565.2z" fill="#fff" stroke="#fff" stroke-width="0.1" />
<circle cx="1588.8" cy="219.6" r="0.9" fill="#fff" stroke="#fff" stroke-width="0.1" />
<rect x="1571.0" y="236" width="14.2" height="19.6" fill="#000" stroke="#000" stroke-width="0.1" rx="2.4" />
<rect x="1573.8" y="232.4" width="13.4" height="4.2" fill="#000" stroke="#000" stroke-width="0.1" rx="0" />
<rect x="1576.2" y="233.6" width="2.4" height="2.4" fill="#fff" stroke="#fff" stroke-width="0.1" rx="0" />
<rect x="1580.6000000000001" y="233.6" width="2.2" height="2.4" fill="#fff" stroke="#fff" stroke-width="0.1" rx="0" />
<rect x="1584.6000000000001" y="233.6" width="1.6" height="2.4" fill="#fff" stroke="#fff" stroke-width="0.1" rx="0" />
<rect x="1576.2" y="239" width="2.0" height="1.4" fill="#fff" stroke="#fff" stroke-width="0.1" rx="0" />
<rect x="1578.9" y="239" width="2.0" height="1.4" fill="#fff" stroke="#fff" stroke-width="0.1" rx="0" />
<rect x="1581.6000000000001" y="239" width="2.0" height="1.4" fill="#fff" stroke="#fff" stroke-width="0.1" rx="0" />
<rect x="1573.6000000000001" y="251.4" width="7.0" height="2.4" fill="#fff" stroke="#fff" stroke-width="0.1" rx="1" />
<rect x="1583.6000000000001" y="240.6" width="1.8" height="14.4" fill="#fff" stroke="#fff" stroke-width="0.1" rx="0" />
<path d="M1584.9,236.6 V264" fill="none" stroke="#000" stroke-width="4.2" stroke-linecap="butt" stroke-linejoin="round"/>
<path d="M1584.9,236.6 V264" fill="none" stroke="#fff" stroke-width="1.5" stroke-linecap="butt" stroke-linejoin="round"/>
<rect x="1359.6" y="139.6" width="27.6" height="59.2" fill="#000" stroke="#000" stroke-width="0.1" rx="2" />
<rect x="1362.8" y="146.6" width="21.2" height="48.8" fill="#fff" stroke="#fff" stroke-width="0.1" rx="0" />
<circle cx="1373.6" cy="157.8" r="11.6" fill="#000" stroke="#000" stroke-width="0.1" />
<circle cx="1373.6" cy="182.4" r="11.6" fill="#000" stroke="#000" stroke-width="0.1" />
<rect x="1362.8" y="168.6" width="21.2" height="2.4" fill="#000" stroke="#000" stroke-width="0.1" rx="0" />
<circle cx="1373.6" cy="157.8" r="0.5" fill="#777" stroke="#777" stroke-width="0.1" />
<circle cx="1373.6" cy="182.4" r="0.5" fill="#777" stroke="#777" stroke-width="0.1" />
<rect x="1362" y="198" width="23" height="6" fill="#000" stroke="#000" stroke-width="0.1" rx="0" />
<rect x="1364.4" y="205" width="18.2" height="1.2" fill="#000" stroke="#000" stroke-width="0.1" rx="0" />
<rect x="1364.4" y="208.4" width="18.2" height="1.2" fill="#000" stroke="#000" stroke-width="0.1" rx="0" />
<rect x="1369.6" y="204" width="7.0" height="19.6" fill="#000" stroke="#000" stroke-width="0.1" rx="3.2" />
</svg>
</body></html>
